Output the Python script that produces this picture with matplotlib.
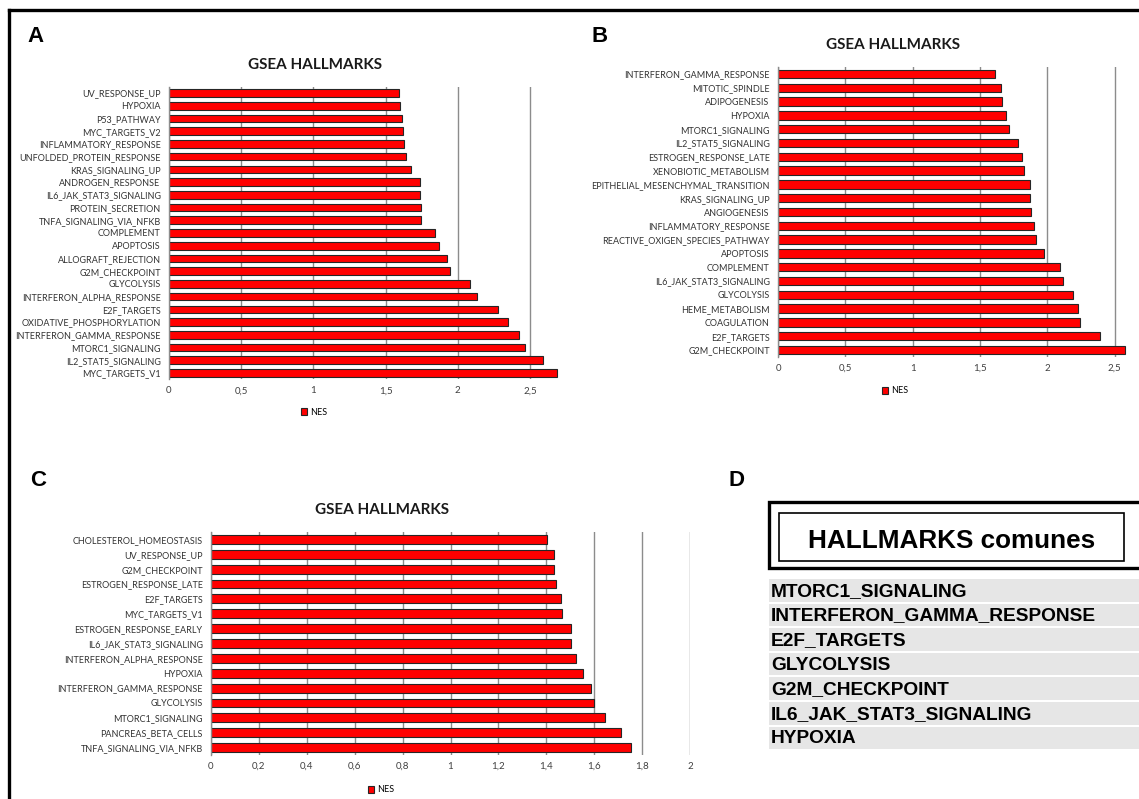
import matplotlib
matplotlib.use("Agg")
import matplotlib.pyplot as plt
from matplotlib.patches import Rectangle
from matplotlib.lines import Line2D

W, H = 1139, 799
DPI = 100

# ---------------- data ----------------
a_labels = ["UV_RESPONSE_UP", "HYPOXIA", "P53_PATHWAY", "MYC_TARGETS_V2",
            "INFLAMMATORY_RESPONSE", "UNFOLDED_PROTEIN_RESPONSE", "KRAS_SIGNALING_UP",
            "ANDROGEN_RESPONSE", "IL6_JAK_STAT3_SIGNALING", "PROTEIN_SECRETION",
            "TNFA_SIGNALING_VIA_NFKB", "COMPLEMENT", "APOPTOSIS", "ALLOGRAFT_REJECTION",
            "G2M_CHECKPOINT", "GLYCOLYSIS", "INTERFERON_ALPHA_RESPONSE", "E2F_TARGETS",
            "OXIDATIVE_PHOSPHORYLATION", "INTERFERON_GAMMA_RESPONSE", "MTORC1_SIGNALING",
            "IL2_STAT5_SIGNALING", "MYC_TARGETS_V1"]
a_values = [1.595, 1.603, 1.613, 1.620, 1.625, 1.638, 1.676, 1.739, 1.739, 1.744,
            1.746, 1.840, 1.870, 1.928, 1.943, 2.082, 2.135, 2.280, 2.351, 2.422,
            2.465, 2.588, 2.684]
a_ticks = [0, 0.5, 1, 1.5, 2, 2.5]
a_ticklabels = ["0", "0,5", "1", "1,5", "2", "2,5"]

b_labels = ["INTERFERON_GAMMA_RESPONSE", "MITOTIC_SPINDLE", "ADIPOGENESIS", "HYPOXIA",
            "MTORC1_SIGNALING", "IL2_STAT5_SIGNALING", "ESTROGEN_RESPONSE_LATE",
            "XENOBIOTIC_METABOLISM", "EPITHELIAL_MESENCHYMAL_TRANSITION", "KRAS_SIGNALING_UP",
            "ANGIOGENESIS", "INFLAMMATORY_RESPONSE", "REACTIVE_OXIGEN_SPECIES_PATHWAY",
            "APOPTOSIS", "COMPLEMENT", "IL6_JAK_STAT3_SIGNALING", "GLYCOLYSIS",
            "HEME_METABOLISM", "COAGULATION", "E2F_TARGETS", "G2M_CHECKPOINT"]
b_values = [1.614, 1.659, 1.665, 1.692, 1.719, 1.786, 1.814, 1.827, 1.873, 1.873,
            1.876, 1.903, 1.919, 1.976, 2.092, 2.114, 2.195, 2.230, 2.243, 2.395, 2.578]
b_ticks = [0, 0.5, 1, 1.5, 2, 2.5]
b_ticklabels = ["0", "0,5", "1", "1,5", "2", "2,5"]

c_labels = ["CHOLESTEROL_HOMEOSTASIS", "UV_RESPONSE_UP", "G2M_CHECKPOINT",
            "ESTROGEN_RESPONSE_LATE", "E2F_TARGETS", "MYC_TARGETS_V1",
            "ESTROGEN_RESPONSE_EARLY", "IL6_JAK_STAT3_SIGNALING", "INTERFERON_ALPHA_RESPONSE",
            "HYPOXIA", "INTERFERON_GAMMA_RESPONSE", "GLYCOLYSIS", "MTORC1_SIGNALING",
            "PANCREAS_BETA_CELLS", "TNFA_SIGNALING_VIA_NFKB"]
c_values = [1.401, 1.432, 1.432, 1.441, 1.461, 1.466, 1.505, 1.505, 1.524, 1.553,
            1.585, 1.601, 1.645, 1.712, 1.752]
c_ticks = [0, 0.2, 0.4, 0.6, 0.8, 1, 1.2, 1.4, 1.6, 1.8, 2]
c_ticklabels = ["0", "0,2", "0,4", "0,6", "0,8", "1", "1,2", "1,4", "1,6", "1,8", "2"]

d_title = "HALLMARKS comunes"
d_items = ["MTORC1_SIGNALING", "INTERFERON_GAMMA_RESPONSE", "E2F_TARGETS",
           "GLYCOLYSIS", "G2M_CHECKPOINT", "IL6_JAK_STAT3_SIGNALING", "HYPOXIA"]

chart_title = "GSEA HALLMARKS"
series_name = "NES"

# ---------------- helpers ----------------
NARROW = ["Lato", "DejaVu Sans"]
ARIAL = ["Liberation Sans", "DejaVu Sans"]

fig = plt.figure(figsize=(W / DPI, H / DPI), dpi=DPI)
fig.patch.set_facecolor("white")


def fx(px):
    return px / W


def fy(py):
    return 1 - py / H


def add_px_axes(x0, y0, x1, y1):
    return fig.add_axes([fx(x0), fy(y1), fx(x1 - x0), (y1 - y0) / H])


def bar_panel(labels, values, ticks, ticklabels, xmax, box, title_xy, legend_xy, lsize):
    ax = add_px_axes(*box)
    n = len(labels)
    ypos = list(range(n))
    ax.barh(ypos, values, height=0.6, color="#FF0000", edgecolor="#262626",
            linewidth=0.8, zorder=3, label=series_name)
    ax.set_ylim(n - 0.5, -0.5)
    ax.set_xlim(0, xmax)
    ax.set_yticks(ypos)
    ax.set_yticklabels(labels, fontfamily=NARROW, fontsize=lsize, color="#333333")
    ax.set_xticks(ticks)
    ax.set_xticklabels(ticklabels, fontfamily=NARROW, fontsize=7, color="#404040")
    ax.tick_params(axis="y", length=0, pad=6)
    ax.tick_params(axis="x", length=0, pad=5)
    for s in ["top", "right", "bottom"]:
        ax.spines[s].set_visible(False)
    ax.spines["left"].set_color("#8c8c8c")
    ax.spines["left"].set_linewidth(1.0)
    ax.spines["left"].set_zorder(4)
    ax.grid(axis="x", color="#8c8c8c", linewidth=1.0, zorder=0)
    ax.set_axisbelow(True)
    fig.text(fx(title_xy[0]), fy(title_xy[1]), chart_title, ha="center", va="center",
             fontfamily=NARROW, fontweight="bold", fontsize=11, color="#1a1a1a")
    ax.legend(loc="center", bbox_to_anchor=(fx(legend_xy[0]), fy(legend_xy[1])),
              bbox_transform=fig.transFigure, frameon=False,
              handlelength=0.75, handleheight=0.75, handletextpad=0.3,
              prop={"family": NARROW, "size": 6.5})
    return ax


# Panel A
bar_panel(a_labels, a_values, a_ticks, a_ticklabels, 2.70,
          (169, 86.6, 169 + 2.70 * 144.4, 379.4), (315, 65), (314, 412), 6.5)
# Panel B
bar_panel(b_labels, b_values, b_ticks, b_ticklabels, 2.59,
          (778, 67.1, 778 + 2.59 * 134.6, 356.9), (893, 45), (895, 391), 6.5)
# Panel C
bar_panel(c_labels, c_values, c_ticks, c_ticklabels, 2.0,
          (211, 532, 690, 755), (382, 510), (381, 790), 6.5)

# Panel letters
for letter, x, y in [("A", 36, 37), ("B", 600, 37), ("C", 38, 481), ("D", 736, 481)]:
    fig.text(fx(x), fy(y), letter, ha="center", va="center", fontfamily=ARIAL,
             fontweight="bold", fontsize=16, color="black")

# Figure border (top and left)
fig.add_artist(Line2D([fx(9), fx(W + 5)], [fy(10), fy(10)], color="black", linewidth=2.4))
fig.add_artist(Line2D([fx(9), fx(9)], [fy(10), fy(H + 5)], color="black", linewidth=2.4))

# Panel D: title boxes
fig.add_artist(Rectangle((fx(769), fy(568)), fx(1145 - 769), (568 - 502) / H,
                         transform=fig.transFigure, facecolor="white",
                         edgecolor="black", linewidth=2.4))
fig.add_artist(Rectangle((fx(779), fy(561)), fx(1124 - 779), (561 - 513) / H,
                         transform=fig.transFigure, facecolor="none",
                         edgecolor="black", linewidth=1.2))
fig.text(fx(952), fy(541), d_title, ha="center", va="center", fontfamily=ARIAL,
         fontweight="bold", fontsize=18.8, color="black")

# Panel D: table rows
row_top = 578
row_h = 24.6
for i, item in enumerate(d_items):
    y0 = row_top + i * row_h
    fig.add_artist(Rectangle((fx(769), fy(y0 + row_h - 1)), fx(W - 769), (row_h - 2) / H,
                             transform=fig.transFigure, facecolor="#e6e6e6",
                             edgecolor="none"))
    fig.text(fx(771), fy(y0 + row_h / 2 + 1), item, ha="left", va="center",
             fontfamily=ARIAL, fontweight="bold", fontsize=13.8, color="black")

fig.savefig("out.png", dpi=DPI)
